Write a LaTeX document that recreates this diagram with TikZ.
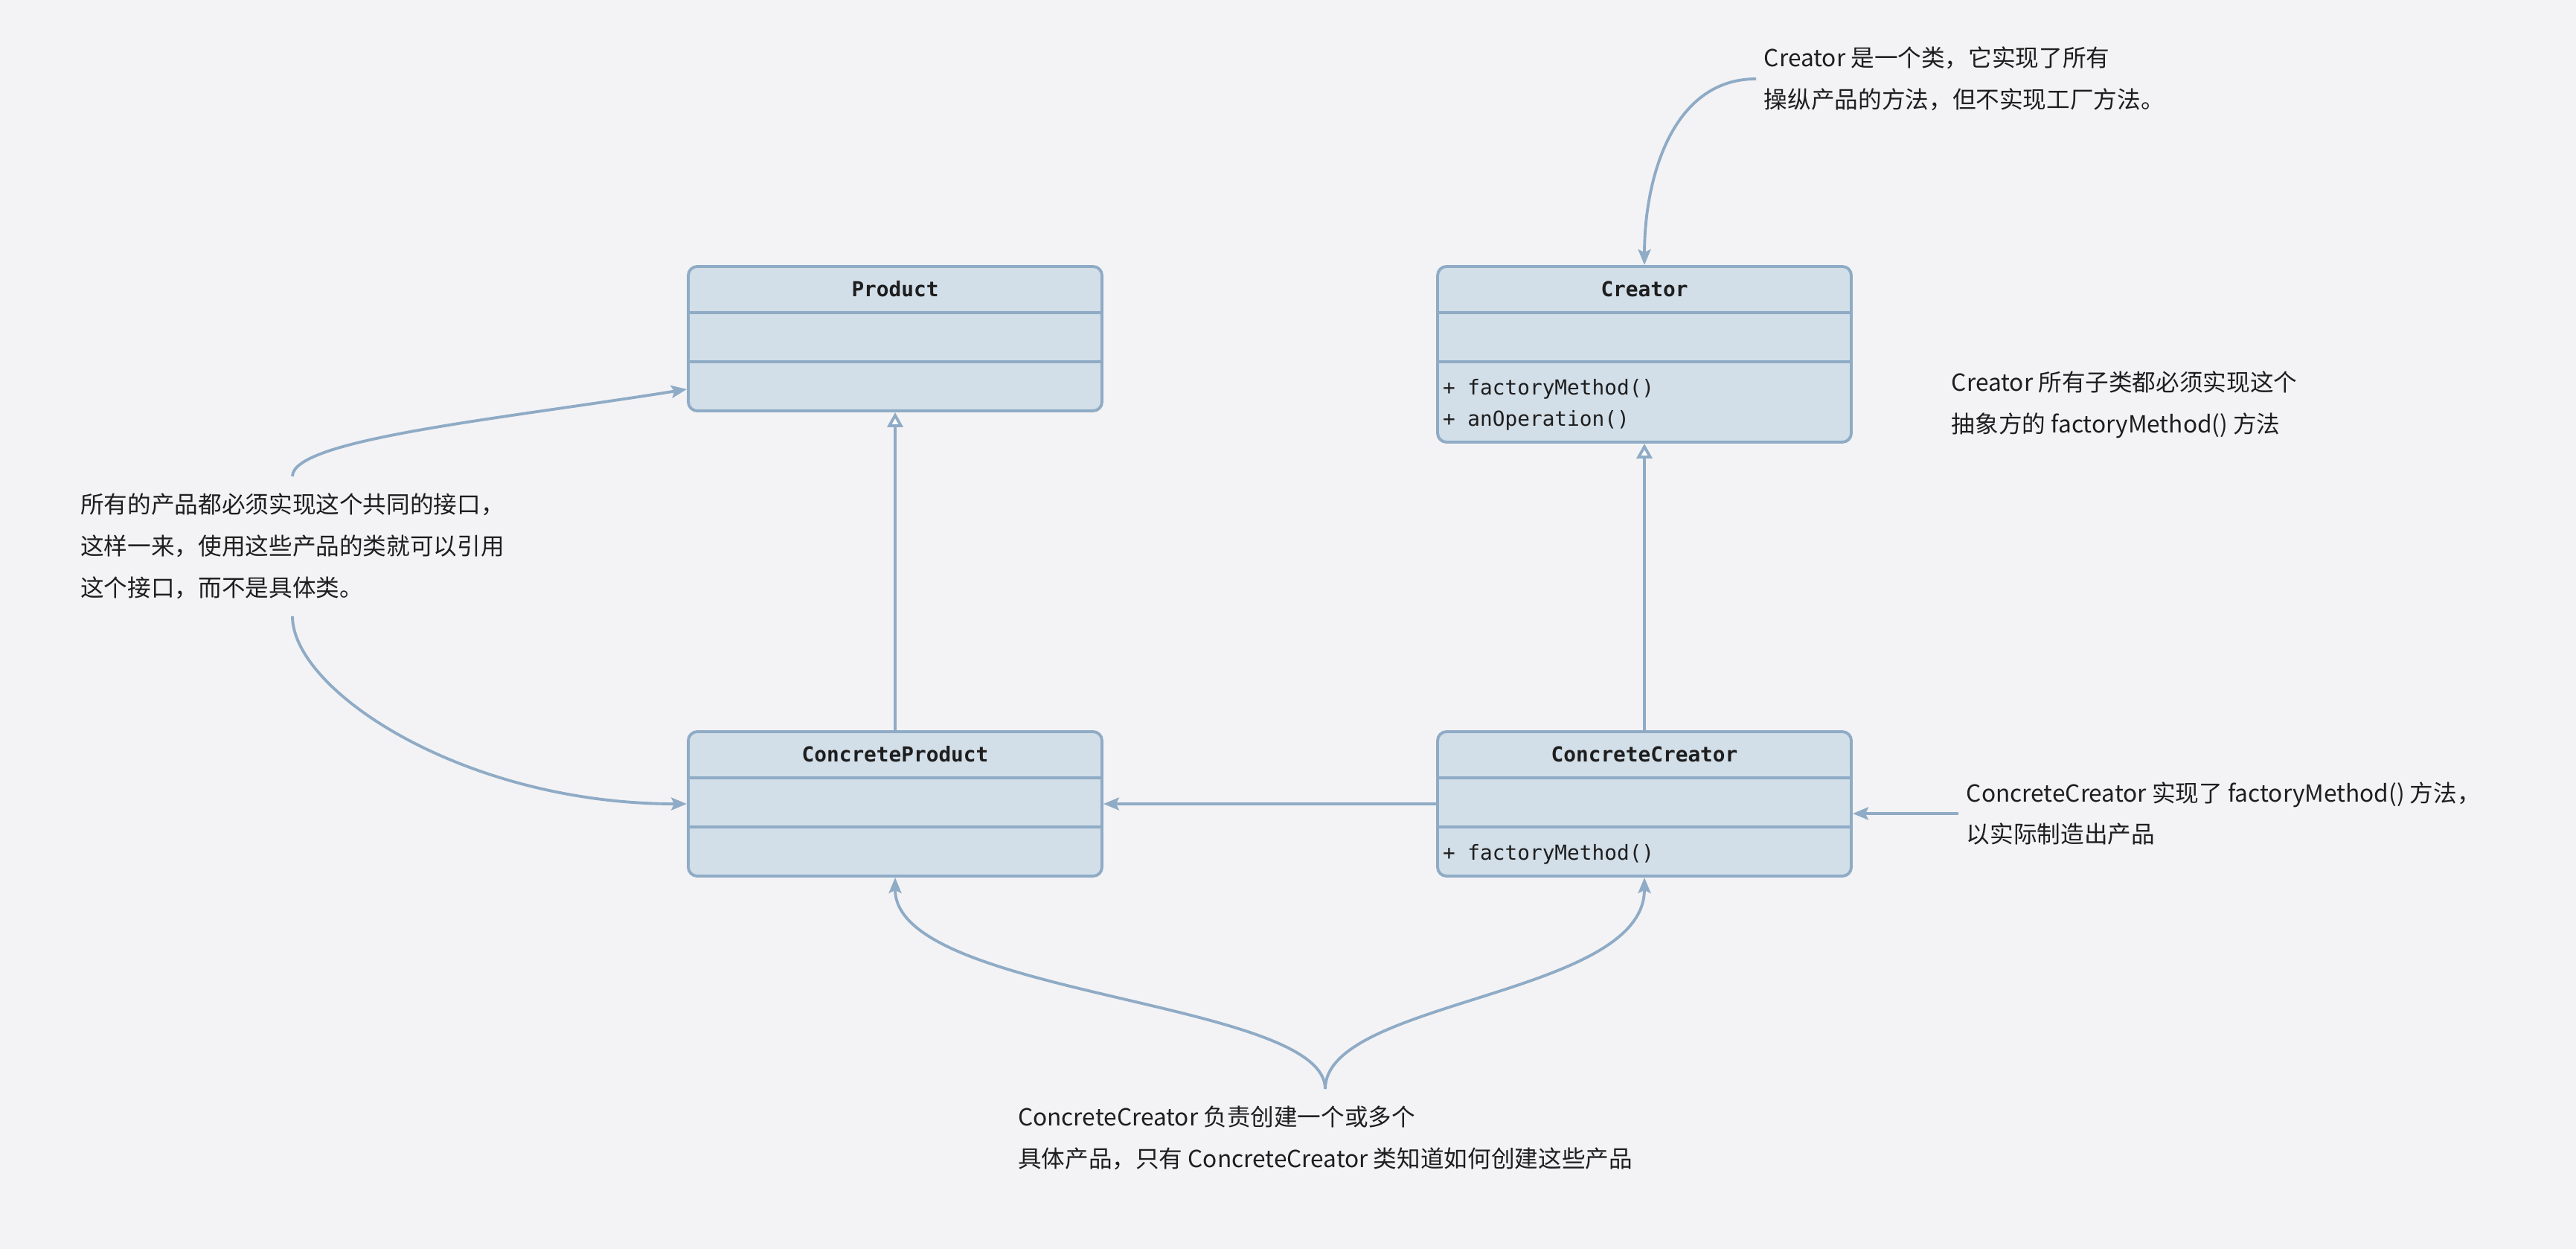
\documentclass[tikz,border=0pt]{standalone}
\usepackage{fontspec}
\setmainfont{Noto Sans CJK SC}
\newfontfamily\umlmono{DejaVu Sans Mono}
\usetikzlibrary{arrows.meta, positioning, calc}

\definecolor{canvas}{HTML}{F3F3F6}
\definecolor{umlfill}{HTML}{D2DEE8}
\definecolor{umlline}{HTML}{8FABC5}
\definecolor{inktext}{HTML}{1E1E1E}

\begin{document}
\begin{tikzpicture}[>=Stealth, line width=1.1pt,
    classbox/.style={draw=umlline, fill=umlfill, rounded corners=0.12cm, minimum width=5.56cm, inner sep=0pt},
    classname/.style={font=\umlmono\bfseries\fontsize{7.9pt}{9pt}\selectfont, text=inktext, inner sep=0pt, text height=0.76em, text depth=0.24em},
    member/.style={font=\umlmono\fontsize{7.9pt}{9pt}\selectfont, text=inktext, inner sep=0pt, anchor=west, text height=0.76em, text depth=0.24em},
    divider/.style={draw=umlline},
    note/.style={font=\fontsize{9pt}{15.9pt}\selectfont, text=inktext, align=left, inner xsep=0.09cm, inner ysep=0.21cm},
    link/.style={draw=umlline, -{Stealth[length=0.21cm, width=0.17cm, inset=0.04cm]}},
    inherit/.style={draw=umlline, -{Triangle[open, fill=white, length=0.2cm, width=0.21cm]}}]

        % --- canvas ---
        \useasboundingbox (0,0) rectangle (34.62,-16.78);
        \fill[canvas] (0,0) rectangle (34.62,-16.78);

        % --- class boxes ---
        \node[classbox, minimum height=1.94cm] (prod) at (12.03,-4.55) {};
        \node[classbox, minimum height=2.36cm] (creator) at (22.10,-4.76) {};
        \node[classbox, minimum height=1.94cm] (cprod) at (12.03,-10.80) {};
        \node[classbox, minimum height=1.94cm] (ccreator) at (22.10,-10.80) {};

        % --- compartments: name, attributes, methods ---
        \foreach \cls/\title in {prod/Product, creator/Creator, cprod/ConcreteProduct, ccreator/ConcreteCreator} {
            \node[classname] (\cls-name) at ($(\cls.north)+(0,-0.33)$) {\title};
            \draw[divider] ($(\cls.north west)+(0,-0.64)$) -- ($(\cls.north east)+(0,-0.64)$);
            \draw[divider] ($(\cls.north west)+(0,-1.30)$) -- ($(\cls.north east)+(0,-1.30)$);
        }
        \node[member] (creator-m1) at ($(creator.north west)+(0.07,-1.65)$) {+ factoryMethod()};
        \node[member] (creator-m2) at ($(creator.north west)+(0.07,-2.07)$) {+ anOperation()};
        \node[member] (ccreator-m1) at ($(ccreator.north west)+(0.07,-1.65)$) {+ factoryMethod()};

        % --- relations between the classes ---
        \draw[inherit] (cprod.north) -- (prod.south);
        \draw[inherit] (ccreator.north) -- (creator.south);
        \draw[link] (ccreator.west) -- (cprod.east);

        % --- notes ---
        \node[note, anchor=west] (noteCreator) at (23.60,-1.06) {Creator 是一个类，它实现了所有\\操纵产品的方法，但不实现工厂方法。};
        \node[note, anchor=west] (noteAbstract) at (26.12,-5.44) {Creator 所有子类都必须实现这个\\抽象方的 factoryMethod() 方法};
        \node[note, anchor=west] (noteConcrete) at (26.32,-10.93) {ConcreteCreator 实现了 factoryMethod() 方法，\\以实际制造出产品};
        \node[note, anchor=north] (noteCreates) at (17.81,-14.63) {ConcreteCreator 负责创建一个或多个\\具体产品，只有 ConcreteCreator 类知道如何创建这些产品};
        \node[note, anchor=north] (noteIface) at (3.93,-6.40) {所有的产品都必须实现这个共同的接口，\\这样一来，使用这些产品的类就可以引用\\这个接口，而不是具体类。};

        % --- note pointers ---
        \draw[link] (noteCreator.west) to[out=180, in=90] (creator.north);
        \draw[link] (noteConcrete.west) -- (noteConcrete.west -| ccreator.east);
        \draw[link] (noteIface.north) .. controls +(0,0.5) and +(-2.5,-0.4) .. ($(prod.south west)+(0,0.31)$);
        \draw[link] (noteIface.south) .. controls +(0,-1.0) and +(-3.0,0) .. (cprod.west);
        \draw[link] (noteCreates.north) .. controls +(0,1.2) and +(0,-1.6) .. (cprod.south);
        \draw[link] (noteCreates.north) .. controls +(0,1.2) and +(0,-1.6) .. (ccreator.south);
\end{tikzpicture}
\end{document}
